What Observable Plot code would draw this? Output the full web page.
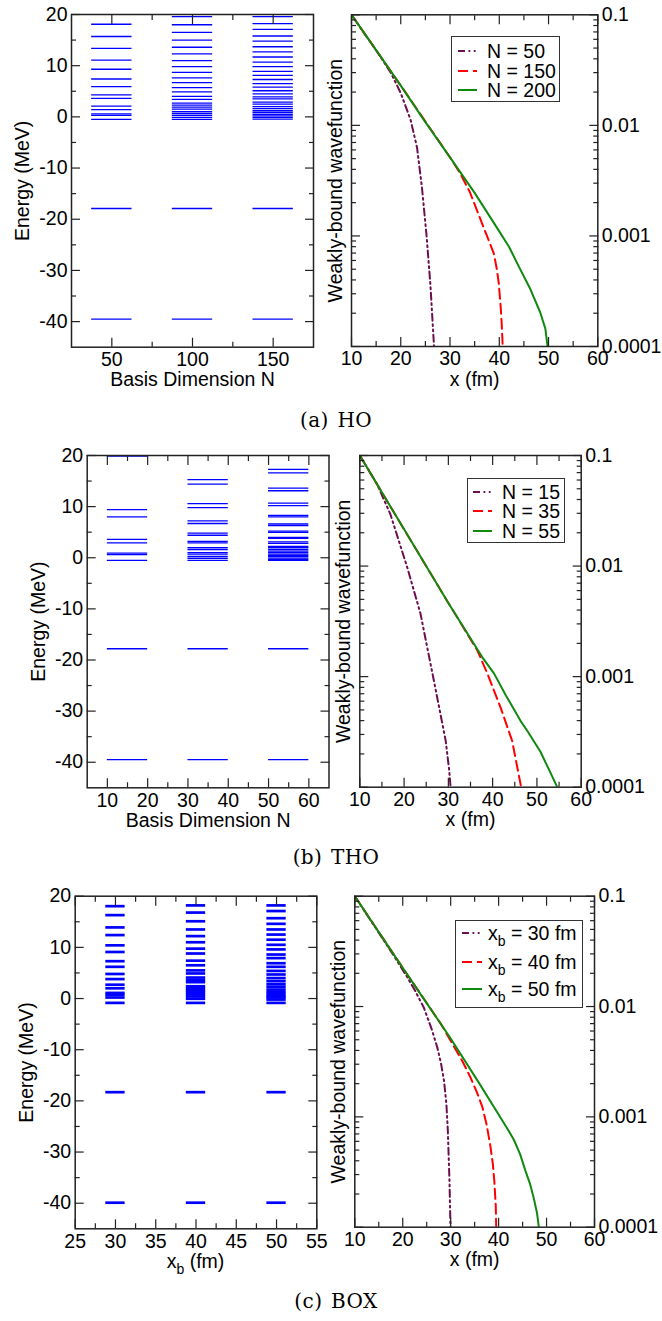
<!DOCTYPE html>
<html>
<head>
<meta charset="utf-8">
<script src="https://cdn.jsdelivr.net/npm/d3@7"></script>
<script src="https://cdn.jsdelivr.net/npm/@observablehq/plot@0.6"></script>
<style>
  body { margin: 0; background: #fff; }
  #page { position: relative; width: 662px; height: 1321px; overflow: hidden; background: #fff;
          font-family: "Liberation Sans", Arial, Helvetica, sans-serif; color: #000; }
  #page > svg { position: absolute; left: 0; top: 0; }
  .caption { position: absolute; left: 236px; width: 200px; text-align: center;
             font-family: "DejaVu Serif", "Liberation Serif", serif; font-size: 20px; line-height: 20px;
             word-spacing: 2px; letter-spacing: 0.4px; white-space: nowrap; }
  .legend { position: absolute; border: 1.2px solid #333; background: #fff; box-sizing: border-box; }
  .legend .row { position: absolute; white-space: nowrap; font-size: 19.5px; line-height: 18px; }
  .legend svg { position: absolute; }
  .sub { position: relative; top: 6px; font-size: 14px; line-height: 0; }
  .xlabel { position: absolute; width: 200px; text-align: center; font-size: 19.5px; line-height: 18px; white-space: nowrap; }
</style>
</head>
<body>
<div id="page"></div>
<script>
// ================= DATA =================
// (a) HO : energy levels (MeV) for each basis dimension N
const hoN = [50, 100, 150];
const hoLevelsN50  = [-39.5, -17.9, -0.5, 0.3, 0.6, 1.4, 2.1, 3.6, 4.3, 5.9, 7.4, 9.3, 11.1, 13.4, 15.7, 18.1];
const hoLevelsN100 = [-39.5, -17.9, -0.5, -0.1, 0.3, 0.65, 1.0, 1.5, 1.9, 2.3, 2.7, 3.4, 4.0, 4.9, 5.7, 6.7, 7.6, 8.7, 9.8, 11.0, 12.3, 13.6, 15.0, 16.5, 18.0, 19.6];
const hoLevelsN150 = [-39.5, -17.9, -0.45, -0.1, 0.2, 0.5, 0.85, 1.2, 1.6, 2.0, 2.5, 2.9, 3.5, 3.9, 4.5, 5.1, 5.8, 6.5, 7.3, 8.1, 8.9, 9.8, 10.7, 11.7, 12.7, 13.7, 14.8, 15.8, 17.1, 18.2, 19.6];

// (b) THO
const thoN = [15, 35, 55];
const thoLevelsN15 = [-39.5, -17.8, -0.5, 0.6, 0.9, 2.9, 3.6, 8.0, 9.4, 19.9];
const thoLevelsN35 = [-39.5, -17.8, -0.5, -0.1, 0.26, 0.7, 1.0, 1.6, 1.96, 2.9, 3.2, 4.4, 4.8, 6.7, 7.2, 9.8, 10.6, 14.4, 15.3];
const thoLevelsN55 = [-39.5, -17.8, -0.5, -0.3, -0.07, 0.2, 0.46, 0.7, 1.0, 1.3, 1.6, 1.96, 2.2, 2.8, 3.1, 3.8, 4.0, 4.96, 5.2, 6.3, 6.6, 8.0, 8.3, 10.2, 10.7, 13.1, 13.6, 16.6, 17.3];

// (c) BOX
const boxXb = [30, 40, 50];
const boxLevelsXb30 = [-39.9, -18.3, -0.85, 0.2, 0.7, 1.1, 2.0, 2.7, 3.8, 4.8, 6.2, 7.3, 9.1, 10.4, 12.4, 13.9, 16.3, 18.05];
const boxLevelsXb40 = [-39.9, -18.3, -0.85, -0.05, 0.4, 0.8, 1.2, 1.6, 2.0, 2.4, 3.2, 3.6, 4.1, 4.9, 5.5, 6.5, 7.4, 8.8, 9.75, 11.0, 12.2, 13.5, 15.1, 16.8, 18.2];
const boxLevelsXb50 = [-39.9, -18.3, -0.85, -0.2, 0.2, 0.5, 0.9, 1.3, 1.75, 2.3, 2.8, 3.4, 4.0, 4.7, 5.4, 6.2, 6.9, 7.9, 8.6, 9.6, 10.5, 11.5, 12.5, 13.5, 14.6, 15.7, 17.1, 18.2];

// Weakly-bound wavefunction curves (x in fm, value)
const hoWfX50   = [10, 14, 16, 18, 20, 22, 23.3, 24.3, 25.2, 26.0, 26.7, 26.75];
const hoWfY50   = [0.1, 0.0552, 0.041, 0.0298, 0.0196, 0.0112, 0.00631, 0.00275, 0.00105, 0.000372, 0.00011, 0.0001];
const hoWfX150  = [10, 20, 30, 32, 34, 36.8, 38.9, 39.5, 39.9, 40.3, 40.5, 40.7];
const hoWfY150  = [0.1, 0.0229, 0.00513, 0.00372, 0.00251, 0.0012, 0.000692, 0.000501, 0.000372, 0.000224, 0.000158, 0.0001];
const hoWfX200  = [10, 15, 20, 25, 30, 35, 40, 42, 44, 46.3, 48.3, 49.35, 49.8];
const hoWfY200  = [0.1, 0.0479, 0.0229, 0.0107, 0.00513, 0.00245, 0.0011, 0.000794, 0.000525, 0.000331, 0.000204, 0.000145, 0.0001];

const thoWfX15  = [10, 12, 13.9, 16.9, 20.7, 23.7, 26.7, 29.4, 30.2, 30.5];
const thoWfY15  = [0.1, 0.0741, 0.055, 0.0295, 0.00977, 0.00372, 0.000933, 0.000263, 0.000141, 0.0001];
const thoWfX35  = [10, 20, 30, 36.5, 38.8, 41.8, 44.4, 46.3, 46.4];
const thoWfY35  = [0.1, 0.0215, 0.00464, 0.00174, 0.00107, 0.000525, 0.000263, 0.000107, 0.0001];
const thoWfX55  = [10, 20, 30, 37.6, 40.3, 43, 46.3, 48, 50.8, 52.7, 54.6];
const thoWfY55  = [0.1, 0.0215, 0.00464, 0.00151, 0.00107, 0.000676, 0.000398, 0.000316, 0.000209, 0.000145, 0.0001];

const boxWfX30  = [10, 18, 20.9, 22.5, 24.4, 26, 27.2, 28, 28.6, 29.1, 29.4, 29.75, 29.96];
const boxWfY30  = [0.1, 0.0295, 0.0186, 0.0141, 0.00977, 0.00631, 0.00427, 0.00302, 0.00214, 0.00132, 0.000759, 0.000263, 0.0001];
const boxWfX40  = [10, 20, 28, 30.65, 32.5, 34.1, 35.5, 36.6, 37.5, 38.3, 38.8, 39.1, 39.4, 39.5];
const boxWfY40  = [0.1, 0.0224, 0.00692, 0.00437, 0.00316, 0.00229, 0.00166, 0.00123, 0.000851, 0.000537, 0.000372, 0.000263, 0.000158, 0.0001];
const boxWfX50  = [10, 20, 30, 36, 39.7, 42, 43.2, 44.5, 45.6, 46.5, 47.3, 48, 48.4];
const boxWfY50  = [0.1, 0.0224, 0.00513, 0.002, 0.0011, 0.000759, 0.000617, 0.000457, 0.000324, 0.000251, 0.000186, 0.000135, 0.0001];

// Legend labels
const hoLegend  = ["N = 50", "N = 150", "N = 200"];
const thoLegend = ["N = 15", "N = 35", "N = 55"];
const boxLegend = ["x<span class='sub'>b</span> = 30 fm", "x<span class='sub'>b</span> = 40 fm", "x<span class='sub'>b</span> = 50 fm"];

// Tick values
const energyTicks      = [-40, -30, -20, -10, 0, 10, 20];
const energyMinorTicks = [-35, -25, -15, -5, 5, 15];
const hoNTicks         = [50, 100, 150];
const hoNMinorTicks    = [75, 125];
const thoNTicks        = [10, 20, 30, 40, 50, 60];
const thoNMinorTicks   = [15, 25, 35, 45, 55];
const boxTicks         = [25, 30, 35, 40, 45, 50, 55];
const boxMinorTicks    = [27.5, 32.5, 37.5, 42.5, 47.5, 52.5];
const wfXTicks         = [10, 20, 30, 40, 50, 60];
const wfXMinorTicks    = [15, 25, 35, 45, 55];
const wfYTicks         = [0.1, 0.01, 0.001, 0.0001];
const wfYMinorTicks    = [0.0002, 0.0003, 0.0004, 0.0005, 0.0006, 0.0007, 0.0008, 0.0009,
                          0.002, 0.003, 0.004, 0.005, 0.006, 0.007, 0.008, 0.009,
                          0.02, 0.03, 0.04, 0.05, 0.06, 0.07, 0.08, 0.09];

// ================= STYLE / LAYOUT =================
const W = 662, H = 1321;
const FONT = '"Liberation Sans", Arial, Helvetica, sans-serif';
const FS = 19.5;
const seriesColors = ["#6b0f4f", "#ff0000", "#0f8a0f"];
const seriesDash   = ["7,3.5,1.8,3.5,1.8,3.5", "10,5", null];
const LEVEL_BLUE = "#0000ff";

const page = document.getElementById("page");

function levelRows(centers, lists) {
  return centers.flatMap((c, i) => lists[i].map(E => ({c, E})));
}
function curveRows(xs, ys) { return xs.map((x, i) => ({x, y: ys[i]})); }

function tickMarks(xMaj, xMin, yMaj, yMin) {
  const s = {stroke: "#222", strokeWidth: 1.2, label: null, fill: "none"};
  const M = 9, m = 5;
  return [
    Plot.axisX(xMaj, {anchor: "bottom", tickSize: M, dy: -M, ...s}),
    Plot.axisX(xMin, {anchor: "bottom", tickSize: m, dy: -m, ...s}),
    Plot.axisX(xMaj, {anchor: "top", tickSize: M, dy: M, ...s}),
    Plot.axisX(xMin, {anchor: "top", tickSize: m, dy: m, ...s}),
    Plot.axisY(yMaj, {anchor: "left", tickSize: M, dx: M, ...s}),
    Plot.axisY(yMin, {anchor: "left", tickSize: m, dx: m, ...s}),
    Plot.axisY(yMaj, {anchor: "right", tickSize: M, dx: -M, ...s}),
    Plot.axisY(yMin, {anchor: "right", tickSize: m, dx: -m, ...s})
  ];
}

function makePlot(fr, xOpt, yOpt, marks) {
  const svg = Plot.plot({
    width: W, height: H,
    marginLeft: fr.l, marginRight: W - fr.r, marginTop: fr.t, marginBottom: H - fr.b,
    x: xOpt, y: yOpt,
    style: {background: "transparent", overflow: "visible", fontFamily: FONT, fontSize: FS + "px", color: "#000"},
    marks
  });
  page.appendChild(svg);
}

function yTitle(label, dx) {
  return Plot.text([label], {text: d => d, frameAnchor: "left", dx, rotate: -90,
                             textAnchor: "middle", lineAnchor: "middle", fontSize: FS, fill: "#000"});
}
function xTitle(label, dy) {
  return Plot.text([label], {text: d => d, frameAnchor: "bottom", dy,
                             textAnchor: "middle", lineAnchor: "middle", fontSize: FS, fill: "#000"});
}

function energyPanel(fr, xDomain, xMaj, xMin, centers, lists, halfWidth, barWidth, xLabel) {
  const rows = levelRows(centers, lists);
  makePlot(fr, {domain: xDomain}, {domain: [-45, 20]}, [
    Plot.ruleY(rows, {y: "E", x1: d => d.c - halfWidth, x2: d => d.c + halfWidth, stroke: LEVEL_BLUE, strokeWidth: barWidth}),
    ...tickMarks(xMaj, xMin, energyTicks, energyMinorTicks),
    Plot.frame({stroke: "#222", strokeWidth: 1.5}),
    Plot.axisX(xMaj, {anchor: "bottom", tickSize: 0, tickPadding: 5, label: null, fill: "#000", fontSize: FS, tickFormat: d => String(d)}),
    Plot.axisY(energyTicks, {anchor: "left", tickSize: 0, tickPadding: 4, label: null, fill: "#000", fontSize: FS, tickFormat: d => String(d)}),
    yTitle("Energy (MeV)", -48.5),
    ...(xLabel ? [xTitle(xLabel, 33)] : [])
  ]);
}

function wfPanel(fr, curves) {
  makePlot(fr, {domain: [10, 60]}, {type: "log", domain: [0.0001, 0.1]}, [
    ...curves.map((c, i) => Plot.line(c, {x: "x", y: "y", stroke: seriesColors[i], strokeWidth: 2,
                                          strokeDasharray: seriesDash[i], clip: true})),
    ...tickMarks(wfXTicks, wfXMinorTicks, wfYTicks, wfYMinorTicks),
    Plot.frame({stroke: "#222", strokeWidth: 1.5}),
    Plot.axisX(wfXTicks, {anchor: "bottom", tickSize: 0, tickPadding: 5, label: null, fill: "#000", fontSize: FS, tickFormat: d => String(d)}),
    Plot.axisY(wfYTicks, {anchor: "right", tickSize: 0, tickPadding: 4, label: null, fill: "#000", fontSize: FS, tickFormat: d => String(d)}),
    yTitle("Weakly-bound wavefunction", -16),
    xTitle("x (fm)", 33)
  ]);
}

function legend(labels, box, rowsY, sampleX0, sampleX1, textX) {
  const div = document.createElement("div");
  div.className = "legend";
  Object.assign(div.style, {left: box.l + "px", top: box.t + "px", width: box.w + "px", height: box.h + "px"});
  labels.forEach((lab, i) => {
    const y = rowsY[i] - box.t;
    const ns = "http://www.w3.org/2000/svg";
    const s = document.createElementNS(ns, "svg");
    s.setAttribute("width", sampleX1 - sampleX0);
    s.setAttribute("height", 6);
    s.style.left = (sampleX0 - box.l - 1) + "px";
    s.style.top = (y - 3 - 1) + "px";
    const ln = document.createElementNS(ns, "line");
    ln.setAttribute("x1", 0); ln.setAttribute("x2", sampleX1 - sampleX0);
    ln.setAttribute("y1", 3); ln.setAttribute("y2", 3);
    ln.setAttribute("stroke", seriesColors[i]); ln.setAttribute("stroke-width", 2);
    if (seriesDash[i]) ln.setAttribute("stroke-dasharray", seriesDash[i]);
    s.appendChild(ln);
    div.appendChild(s);
    const t = document.createElement("div");
    t.className = "row";
    t.innerHTML = lab;
    t.style.left = (textX - box.l - 1) + "px";
    t.style.top = (y - 9 - 1) + "px";
    div.appendChild(t);
  });
  page.appendChild(div);
}

function caption(text, top) {
  const d = document.createElement("div");
  d.className = "caption";
  d.textContent = text;
  d.style.top = top + "px";
  page.appendChild(d);
}

// ================= PANELS =================
const frames = {
  aL: {l: 71,   t: 14,    r: 313,   b: 346.7},
  aR: {l: 351,  t: 14.3,  r: 597.3, b: 346},
  bL: {l: 86.7, t: 455,   r: 328.5, b: 787.3},
  bR: {l: 359.3,t: 455,   r: 580.7, b: 786.7},
  cL: {l: 74.7, t: 895.7, r: 316.3, b: 1228.3},
  cR: {l: 354.3,t: 895.7, r: 594,   b: 1226.7}
};

energyPanel(frames.aL, [25, 175], hoNTicks, hoNMinorTicks, hoN,
            [hoLevelsN50, hoLevelsN100, hoLevelsN150], 12.5, 1.3, "Basis Dimension N");
wfPanel(frames.aR, [curveRows(hoWfX50, hoWfY50), curveRows(hoWfX150, hoWfY150), curveRows(hoWfX200, hoWfY200)]);

energyPanel(frames.bL, [5, 65], thoNTicks, thoNMinorTicks, thoN,
            [thoLevelsN15, thoLevelsN35, thoLevelsN55], 5, 1.3, "Basis Dimension N");
wfPanel(frames.bR, [curveRows(thoWfX15, thoWfY15), curveRows(thoWfX35, thoWfY35), curveRows(thoWfX55, thoWfY55)]);

energyPanel(frames.cL, [25, 55], boxTicks, boxMinorTicks, boxXb,
            [boxLevelsXb30, boxLevelsXb40, boxLevelsXb50], 1.2, 2.7, null);
wfPanel(frames.cR, [curveRows(boxWfX30, boxWfY30), curveRows(boxWfX40, boxWfY40), curveRows(boxWfX50, boxWfY50)]);

// x_b axis title (needs a subscript)
const xb = document.createElement("div");
xb.className = "xlabel";
xb.innerHTML = "x<span class='sub'>b</span> (fm)";
xb.style.left = ((frames.cL.l + frames.cL.r) / 2 - 100) + "px";
xb.style.top = (frames.cL.b + 33 - 9) + "px";
page.appendChild(xb);

legend(hoLegend,  {l: 451, t: 36,  w: 109, h: 66}, [51, 71, 90],     458, 477, 487);
legend(thoLegend, {l: 467, t: 478, w: 98,  h: 65}, [492, 511, 531],  473, 492, 502);
legend(boxLegend, {l: 455, t: 920, w: 128, h: 88}, [933, 961.5, 989], 462, 482, 488);

caption("(a) HO", 410);
caption("(b) THO", 847);
caption("(c) BOX", 1291);
</script>
</body>
</html>
